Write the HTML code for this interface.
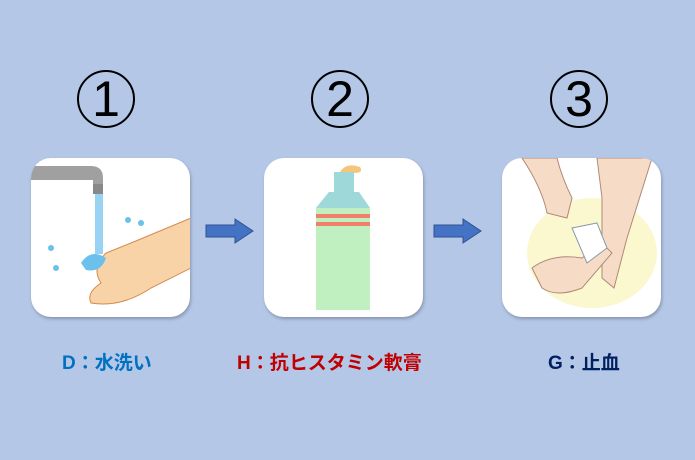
<!DOCTYPE html>
<html><head><meta charset="utf-8"><style>
body{margin:0;width:695px;height:460px;background:#b4c7e7;position:relative;overflow:hidden;font-family:"Liberation Sans","Noto Sans CJK JP",sans-serif}
.n{position:absolute;top:70px;width:58px;height:58px;border:2.5px solid #000;border-radius:50%;box-sizing:border-box;text-align:center;font-size:50px;line-height:54px;color:#000;font-family:"Liberation Sans Narrow","Liberation Sans",sans-serif}
.b{position:absolute;top:158px;width:159px;height:159px;background:#fff;border-radius:20px;box-shadow:1px 2px 3px rgba(0,0,0,.25);overflow:hidden}
.l{position:absolute;top:348px;font-size:19px;font-weight:bold;white-space:nowrap}
</style></head><body>
<div class="n" style="left:77px">1</div>
<div class="n" style="left:311px">2</div>
<div class="n" style="left:550px">3</div>

<div class="b" style="left:31px">
<svg width="159" height="159">
<path d="M0 8 H60 Q72 8 72 20 V34 H62 V22 H0Z" fill="#a0a0a0"/>
<rect x="62" y="26" width="10" height="10" fill="#888"/>
<rect x="64" y="36" width="8" height="60" fill="#7ec8f0" opacity=".8"/>
<path d="M160 60 L100 85 L75 95 Q60 110 70 125 Q55 135 60 145 Q90 150 120 130 L160 110Z" fill="#f9d3a8" stroke="#d48a4a" stroke-width="1"/>
<path d="M50 105 q10 -15 25 -5 q-5 15 -20 12z" fill="#6cc0ec"/>
<circle cx="25" cy="110" r="3" fill="#6cc0ec"/><circle cx="20" cy="90" r="3" fill="#6cc0ec"/><circle cx="110" cy="65" r="3" fill="#6cc0ec"/><circle cx="97" cy="62" r="3" fill="#6cc0ec"/>
</svg></div>

<div class="b" style="left:264px">
<svg width="159" height="159">
<path d="M76 14 q6 -10 20 -5 q4 6 -6 6 q-6 0 -6 6z" fill="#f5c67a"/>
<rect x="70" y="14" width="20" height="20" fill="#9fd8d8"/>
<path d="M65 34 H95 L106 50 V152 H52 V50Z" fill="#c0efc0"/>
<path d="M65 34 H95 L106 50 H52Z" fill="#9fd8d8"/>
<rect x="52" y="56" width="54" height="4" fill="#f0806a"/><rect x="52" y="64" width="54" height="4" fill="#f0806a"/>
</svg></div>

<div class="b" style="left:502px">
<svg width="159" height="159">
<ellipse cx="90" cy="95" rx="65" ry="55" fill="#fbf8d0"/>
<path d="M20 0 Q40 30 45 55 L65 60 L70 40 Q60 20 55 0Z" fill="#f6dcc6" stroke="#b08878" stroke-width="1"/>
<path d="M95 0 L100 40 L100 120 L112 130 L125 80 L150 0Z" fill="#f6dcc6" stroke="#b08878" stroke-width="1"/>
<path d="M30 110 Q50 95 80 100 L100 85 L110 95 L80 130 Q55 140 40 130Z" fill="#f6dcc6" stroke="#b08878" stroke-width="1"/>
<path d="M70 70 L95 65 L105 90 L85 105Z" fill="#fff" stroke="#8899aa" stroke-width="1"/>
</svg></div>

<svg style="position:absolute;left:205px;top:218px" width="50" height="26"><path d="M1 7 H30 V1 L48 13 L30 25 V19 H1Z" fill="#4472c4" stroke="#2f528f" stroke-width="1"/></svg>
<svg style="position:absolute;left:433px;top:218px" width="50" height="26"><path d="M1 7 H30 V1 L48 13 L30 25 V19 H1Z" fill="#4472c4" stroke="#2f528f" stroke-width="1"/></svg>

<div class="l" style="left:62px;color:#0070c0">D：水洗い</div>
<div class="l" style="left:237px;color:#c00000">H：抗ヒスタミン軟膏</div>
<div class="l" style="left:548px;color:#002060">G：止血</div>
</body></html>
